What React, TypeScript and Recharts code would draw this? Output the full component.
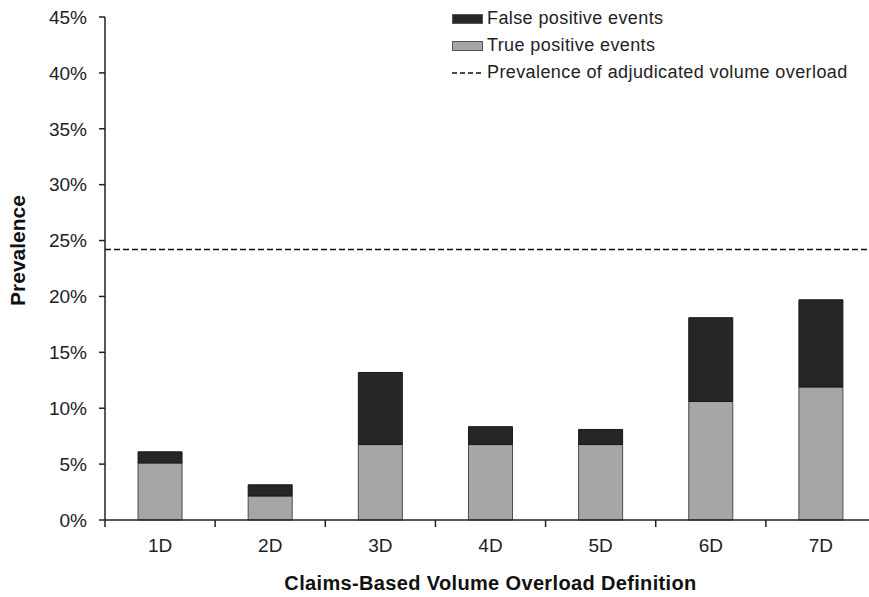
import { BarChart, Bar, XAxis, YAxis, ReferenceLine, Legend } from "recharts";

const categories = ["1D", "2D", "3D", "4D", "5D", "6D", "7D"];
const truePositive = [5.1, 2.15, 6.75, 6.75, 6.75, 10.6, 11.9];
const falsePositive = [1.0, 1.0, 6.45, 1.6, 1.35, 7.5, 7.8];
const adjudicatedPrevalence = 24.2;
const yTicks = [0, 5, 10, 15, 20, 25, 30, 35, 40, 45];

const legendItems = [
  { label: "False positive events", kind: "box", fill: "#262626", stroke: "#555" },
  { label: "True positive events", kind: "box", fill: "#a6a6a6", stroke: "#555" },
  { label: "Prevalence of adjudicated volume overload", kind: "dash", fill: "none", stroke: "#111" },
];

const data = categories.map((cat, i) => ({
  cat,
  tp: truePositive[i],
  fp: falsePositive[i],
}));

const FONT = '"Liberation Sans", Arial, Helvetica, sans-serif';
const CHART_W = 880;
const CHART_H = 597;
const MARGIN = { top: 17, right: 4, left: 25, bottom: 0 };
const Y_AXIS_W = 80;
const BAND = (CHART_W - MARGIN.left - MARGIN.right - Y_AXIS_W) / categories.length;
const X_TICK_SIZE = 7;
const X_TICK_MARGIN = 11;

const XTick = (props: any) => {
  const { x, y, payload, index } = props;
  // axis line sits above the label position
  const axisY = y - X_TICK_SIZE - X_TICK_MARGIN;
  return (
    <g>
      <line x1={x - BAND / 2} x2={x - BAND / 2} y1={axisY} y2={axisY + X_TICK_SIZE} stroke="#222" strokeWidth={1.5} />
      {index === categories.length - 1 && (
        <line x1={x + BAND / 2} x2={x + BAND / 2} y1={axisY} y2={axisY + X_TICK_SIZE} stroke="#222" strokeWidth={1.5} />
      )}
      <text x={x} y={y} dy="0.72em" textAnchor="middle" fill="#222" fontSize={19} fontFamily={FONT}>
        {payload.value}
      </text>
    </g>
  );
};

const renderLegend = () => (
  <div style={{ fontFamily: FONT, fontSize: 18, color: "#222", letterSpacing: 0.4 }}>
    {legendItems.map((item) => (
      <div key={item.label} style={{ display: "flex", alignItems: "center", height: 27, whiteSpace: "nowrap" }}>
        <svg width={34} height={12} style={{ marginRight: 1 }}>
          {item.kind === "box" ? (
            <rect x={0.5} y={1.5} width={30} height={9} fill={item.fill} stroke={item.stroke} strokeWidth={1} />
          ) : (
            <line x1={0} x2={32} y1={6} y2={6} stroke={item.stroke} strokeWidth={1.5} strokeDasharray="5 3" />
          )}
        </svg>
        <span>{item.label}</span>
      </div>
    ))}
  </div>
);

export default function App() {
  return (
    <div
      style={{
        position: "absolute",
        left: 0,
        top: 0,
        width: 869,
        height: 597,
        overflow: "hidden",
        background: "#fff",
        fontFamily: FONT,
      }}
    >
      <BarChart width={CHART_W} height={CHART_H} data={data} margin={MARGIN} barCategoryGap="30%">
        <XAxis
          dataKey="cat"
          height={77}
          interval={0}
          tickSize={X_TICK_SIZE}
          tickMargin={X_TICK_MARGIN}
          tickLine={false}
          axisLine={{ stroke: "#222", strokeWidth: 1.5 }}
          tick={<XTick />}
          label={{
            content: (p: any) => {
              const vb = p.viewBox;
              return (
                <text
                  x={vb.x + vb.width / 2}
                  y={vb.y + 70}
                  textAnchor="middle"
                  fontSize={20}
                  fontWeight="bold"
                  letterSpacing={0.35}
                  fill="#111"
                  fontFamily={FONT}
                >
                  Claims-Based Volume Overload Definition
                </text>
              );
            },
          }}
        />
        <YAxis
          width={Y_AXIS_W}
          domain={[0, 45]}
          ticks={yTicks}
          interval={0}
          tickFormatter={(v: number) => `${v}%`}
          tickSize={6}
          tickMargin={12}
          tickLine={{ stroke: "#222", strokeWidth: 1.5 }}
          axisLine={{ stroke: "#222", strokeWidth: 1.5 }}
          tick={{ fill: "#222", fontSize: 19, fontFamily: FONT }}
          label={{
            content: (p: any) => {
              const vb = p.viewBox;
              const cx = 25;
              const cy = vb.y + vb.height / 2 - 18;
              return (
                <text
                  x={cx}
                  y={cy}
                  transform={`rotate(-90 ${cx} ${cy})`}
                  textAnchor="middle"
                  fontSize={21}
                  fontWeight="bold"
                  fill="#111"
                  fontFamily={FONT}
                >
                  Prevalence
                </text>
              );
            },
          }}
        />
        <Legend
          layout="vertical"
          align="center"
          verticalAlign="middle"
          content={renderLegend}
          wrapperStyle={{ position: "absolute", top: 5, left: 452, width: 420 }}
        />
        <Bar dataKey="tp" stackId="a" fill="#a6a6a6" stroke="#4a4a4a" strokeWidth={1} isAnimationActive={false} />
        <Bar dataKey="fp" stackId="a" fill="#262626" stroke="#1a1a1a" strokeWidth={1} isAnimationActive={false} />
        <ReferenceLine y={adjudicatedPrevalence} stroke="#111" strokeWidth={1.5} strokeDasharray="6 3" />
      </BarChart>
    </div>
  );
}
